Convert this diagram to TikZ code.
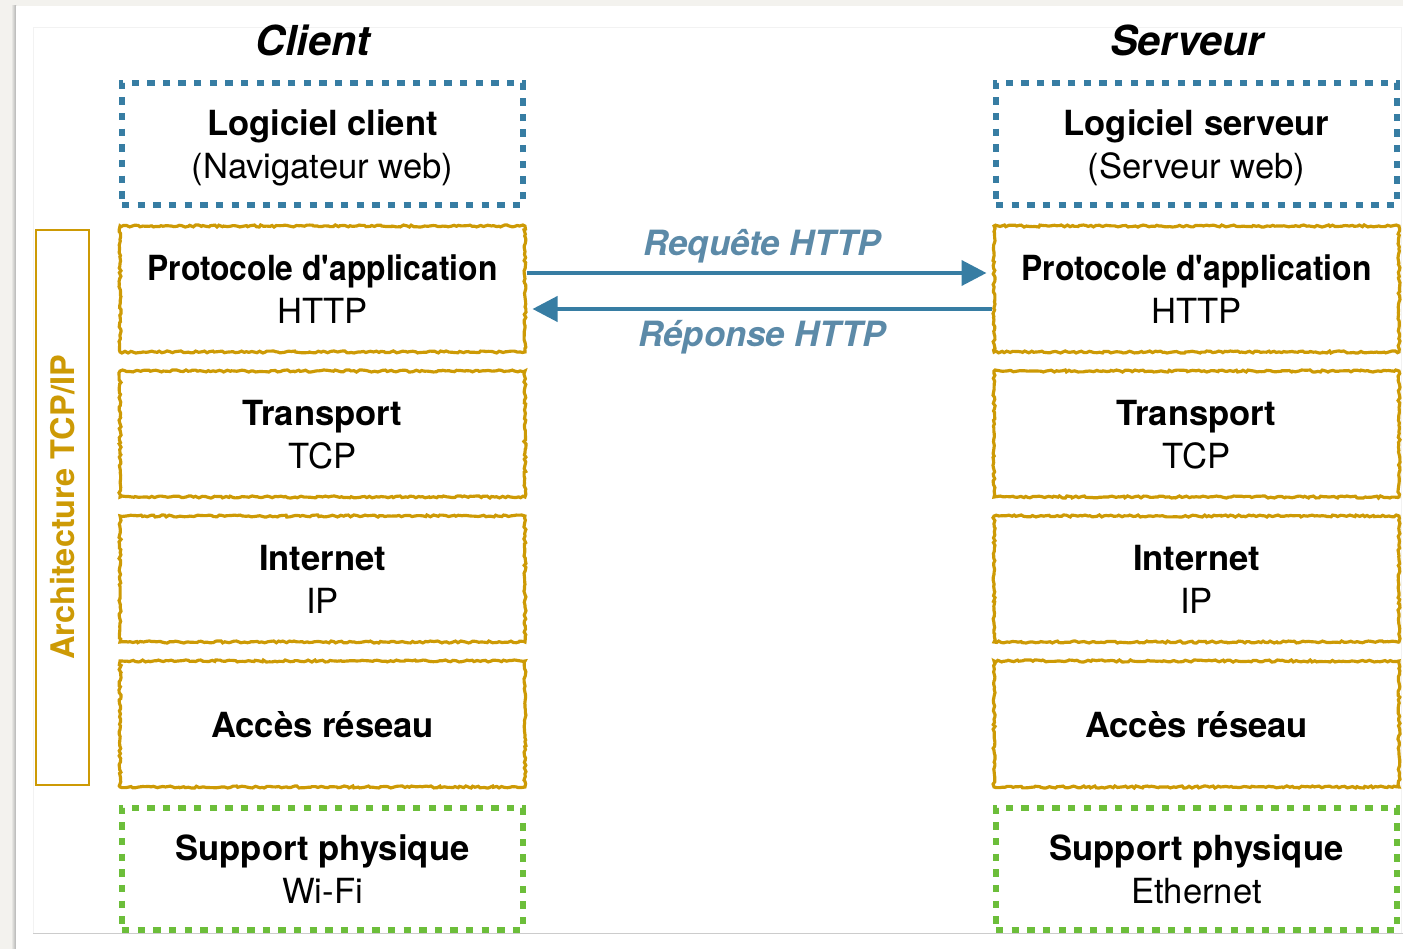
\documentclass[tikz,border=0pt]{standalone}
\usepackage{fontspec}
\usepackage{graphicx}
\setmainfont{TeX Gyre Heros}
\usetikzlibrary{arrows.meta,decorations.pathmorphing}
\definecolor{tcpblue}{RGB}{55,125,163}
\definecolor{tcplabel}{RGB}{92,138,168}
\definecolor{tcpgold}{RGB}{205,154,5}
\definecolor{tcpgreen}{RGB}{108,190,58}
\definecolor{pagegray}{RGB}{243,242,238}

\begin{document}
\begin{tikzpicture}[x = 0.02cm, y = -0.02cm,
  layer/.style = {minimum width = 8.02cm, minimum height = 2.44cm, inner sep = 0pt, align = center, font = \fontsize{19.7}{24.5}\selectfont, text depth = -0.18cm},
  soft/.style = {layer, draw = tcpblue, line width = 3.4pt, dash pattern = on 4.2pt off 4.7pt},
  wire/.style = {layer, draw = tcpgreen, line width = 3.4pt, dash pattern = on 4.2pt off 4.7pt},
  stack/.style = {layer, minimum width = 8.1cm, minimum height = 2.52cm, draw = tcpgold, line width = 1.8pt, decorate, decoration = {random steps, segment length = 1.5pt, amplitude = 0.6pt}},
  side/.style = {font = \fontsize{23.5}{28}\selectfont\bfseries\itshape},
  msg/.style = {draw = tcpblue, line width = 2.3pt, shorten > = 3.4pt, -{Triangle[length = 0.5cm, width = 0.5cm]}},
  msglabel/.style = {text = tcplabel, font = \fontsize{19.8}{22}\selectfont\bfseries\itshape}]
\useasboundingbox (0,0) rectangle (1403,949);
\fill[pagegray] (0,0) rectangle (1403,949);
\shade[left color = pagegray, right color = black!30] (11,6) rectangle (16,949);
\fill[white] (16,6) rectangle (1403,949);
\draw[black!5] (33,27) rectangle (1401,933);
\draw[black!20] (33,933) - - (1403,933);

% titles
\node[side, anchor = base] (client) at (313,56) {Client};
\node[side, anchor = base] (serveur) at (1187,56) {Serveur};

% left stack
\node[soft] (clog) at (322.5,144) {\textbf{Logiciel client}\\(Navigateur web)};
\node[stack] (capp) at (322.5,289) {\scalebox{0.92}[1]{\textbf{Protocole d\textquotesingle application}}\\HTTP};
\node[stack] (ctra) at (322.5,434) {\textbf{Transport}\\TCP};
\node[stack] (cint) at (322.5,579) {\textbf{Internet}\\IP};
\node[stack] (cacc) at (322.5,724) {\textbf{Accès réseau}};
\node[wire] (csup) at (322.5,869) {\textbf{Support physique}\\Wi-Fi};

% right stack
\node[soft] (slog) at (1196.5,144) {\textbf{Logiciel serveur}\\(Serveur web)};
\node[stack] (sapp) at (1196.5,289) {\scalebox{0.92}[1]{\textbf{Protocole d\textquotesingle application}}\\HTTP};
\node[stack] (stra) at (1196.5,434) {\textbf{Transport}\\TCP};
\node[stack] (sint) at (1196.5,579) {\textbf{Internet}\\IP};
\node[stack] (sacc) at (1196.5,724) {\textbf{Accès réseau}};
\node[wire] (ssup) at (1196.5,869) {\textbf{Support physique}\\Ethernet};

% TCP/IP bracket
\node[rotate = 90, draw = tcpgold, line width = 1.2pt, minimum width = 11.1cm, minimum height = 1.06cm, inner sep = 0pt, text = tcpgold, font = \fontsize{18.5}{22}\selectfont\bfseries] (arch) at (62.5,507.5) {Architecture TCP/IP};

% messages
\draw[msg] ([yshift = 0.32cm]capp.east) - - ([yshift = 0.32cm]sapp.west);
\draw[msg] ([yshift = -0.4cm]sapp.west) - - ([yshift = -0.4cm]capp.east);
\node[msglabel, anchor = base] (req) at (762,256) {Requête HTTP};
\node[msglabel, anchor = base] (rep) at (762,347) {Réponse HTTP};

\end{tikzpicture}
\end{document}
